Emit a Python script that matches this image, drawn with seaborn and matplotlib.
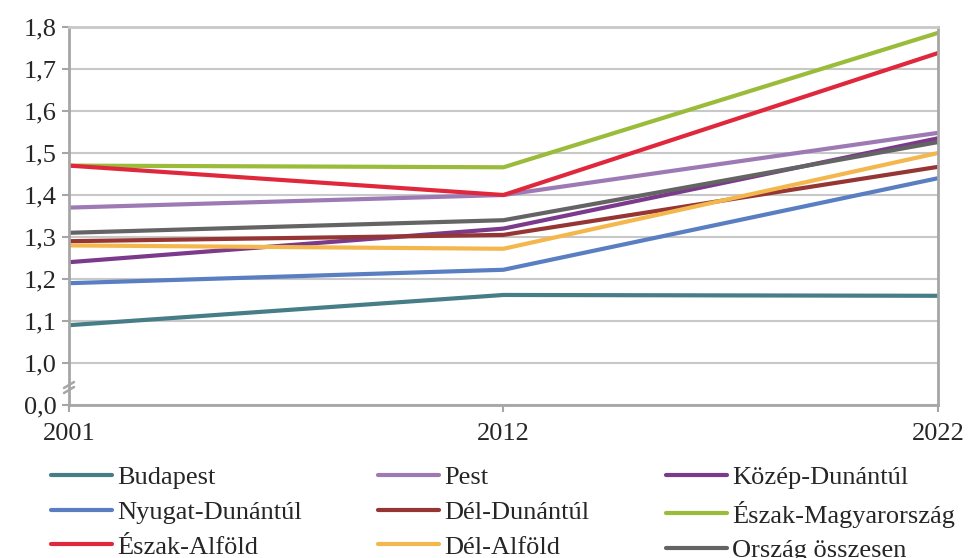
import matplotlib
matplotlib.use("Agg")
import matplotlib.pyplot as plt
import seaborn as sns
import pandas as pd

years = ["2001", "2012", "2022"]
regions = ["Budapest", "Pest", "Közép-Dunántúl",
           "Nyugat-Dunántúl", "Dél-Dunántúl", "Észak-Magyarország",
           "Észak-Alföld", "Dél-Alföld", "Ország összesen"]
budapest = [1.09, 1.162, 1.16]
pest = [1.37, 1.40, 1.548]
kozep_dunantul = [1.24, 1.32, 1.535]
nyugat_dunantul = [1.19, 1.222, 1.44]
del_dunantul = [1.29, 1.305, 1.467]
eszak_magyarorszag = [1.47, 1.466, 1.786]
eszak_alfold = [1.47, 1.40, 1.738]
del_alfold = [1.28, 1.272, 1.50]
orszag = [1.31, 1.34, 1.526]
series = [budapest, pest, kozep_dunantul, nyugat_dunantul, del_dunantul,
          eszak_magyarorszag, eszak_alfold, del_alfold, orszag]
colors = ["#467d86", "#9d7ab4", "#7c3a8c", "#5a7ec2", "#953634",
          "#9bbb3a", "#e0283d", "#f4b74d", "#646464"]
ytick_vals = [0.9, 1.0, 1.1, 1.2, 1.3, 1.4, 1.5, 1.6, 1.7, 1.8]
ytick_labels = ["0,0", "1,0", "1,1", "1,2", "1,3", "1,4", "1,5", "1,6", "1,7", "1,8"]

rows = []
for reg, vals in zip(regions, series):
    for y, v in zip(years, vals):
        rows.append({"Év": y, "Érték": v, "Régió": reg})
df = pd.DataFrame(rows)

sns.set_style("white")
plt.rcParams["font.family"] = ["Liberation Serif", "DejaVu Serif"]

fig = plt.figure(figsize=(9.7, 5.58), dpi=100)
ax = fig.add_axes([69/970, 1-405/558, (938-69)/970, (405-27)/558])

sns.lineplot(data=df, x="Év", y="Érték", hue="Régió", hue_order=regions,
             palette=colors, linewidth=3, ax=ax, legend=False, sort=False)

ax.set_xlim(0, 2)
ax.set_ylim(0.9, 1.8)
ax.set_yticks(ytick_vals)
ax.set_yticklabels(ytick_labels)
ax.set_xticks([0, 1, 2])
ax.set_xticklabels(years)
ax.set_xlabel("")
ax.set_ylabel("")

grid_c = "#c8c8c8"
axis_c = "#a6a6a6"
ax.yaxis.grid(True, color=grid_c, linewidth=1.5)
ax.xaxis.grid(False)
ax.set_axisbelow(True)
for side in ["left", "right", "bottom", "top"]:
    ax.spines[side].set_visible(True)
    ax.spines[side].set_color(axis_c)
    ax.spines[side].set_linewidth(2)
ax.spines["top"].set_color(grid_c)
ax.tick_params(axis="y", length=5, width=1.5, color=axis_c, pad=4,
               labelsize=19, left=True, direction="out")
ax.tick_params(axis="x", length=5, width=1.5, color=axis_c, pad=8,
               labelsize=19, bottom=True, direction="out")

# axis break marks between 0,0 and 1,0 (decoration, figure pixel coords)
for y0 in (388, 393):
    fig.add_artist(plt.Line2D([64/970, 74/970], [1-y0/558, 1-(y0-6)/558],
                              transform=fig.transFigure, color=axis_c,
                              linewidth=1.8))

handles = [plt.Line2D([], [], color=c, linewidth=3) for c in colors]
order = [0, 3, 6, 1, 4, 7, 2, 5, 8]
leg = fig.legend([handles[i] for i in order], [regions[i] for i in order],
                 ncol=3, loc="upper left", bbox_to_anchor=(51/970, 1-466/558),
                 frameon=False, fontsize=19, handlelength=2.3, handletextpad=0.2,
                 columnspacing=2.9, labelspacing=0.42, borderpad=0, borderaxespad=0)

fig.savefig("out.png", dpi=100)
